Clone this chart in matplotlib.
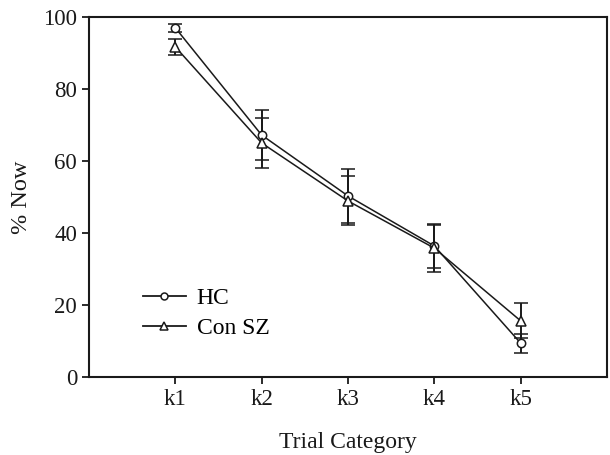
import matplotlib
matplotlib.use("Agg")
import matplotlib.pyplot as plt
from matplotlib.lines import Line2D

categories = ["k1", "k2", "k3", "k4", "k5"]
hc_values = [97.0, 67.2, 50.3, 36.4, 9.4]
hc_err = [1.1, 7.0, 7.5, 6.2, 2.6]
sz_values = [91.7, 65.0, 48.9, 35.8, 15.6]
sz_err = [2.2, 7.0, 6.8, 6.5, 4.9]
yticks = [0, 20, 40, 60, 80, 100]

plt.rcParams['font.family'] = ['Liberation Serif', 'DejaVu Serif']

INK = '#1a1a1a'
fig = plt.figure(figsize=(6.10, 4.55), dpi=100)
ax = fig.add_axes([89/610, 1 - 377/455, (607-89)/610, (377-17)/455])

x = list(range(1, len(categories) + 1))
ax.errorbar(x, hc_values, yerr=hc_err, color=INK, lw=1.1, marker='o',
            markersize=6, markerfacecolor='white', markeredgecolor=INK,
            markeredgewidth=1.1, capsize=5, elinewidth=1.4, capthick=1.4,
            zorder=3)
ax.errorbar(x, sz_values, yerr=sz_err, color=INK, lw=1.1, marker='^',
            markersize=6.5, markerfacecolor='white', markeredgecolor=INK,
            markeredgewidth=1.1, capsize=5, elinewidth=1.4, capthick=1.4,
            zorder=3)

ax.set_xlim(0, 6)
ax.set_ylim(0, 100)
ax.set_xticks(x)
ax.set_xticklabels(categories)
ax.set_yticks(yticks)
ax.tick_params(direction='out', length=5, width=1.3, labelsize=16.5, colors=INK)
for s in ax.spines.values():
    s.set_linewidth(1.5)
    s.set_color(INK)

ax.set_xlabel('Trial Category', fontsize=17, labelpad=16, color=INK)
ax.set_ylabel('% Now', fontsize=17.5, labelpad=8, color=INK)

handles = [
    Line2D([], [], color=INK, lw=1.3, marker='o', markersize=5,
           markerfacecolor='white', markeredgecolor=INK, markeredgewidth=1.1),
    Line2D([], [], color=INK, lw=1.3, marker='^', markersize=5.5,
           markerfacecolor='white', markeredgecolor=INK, markeredgewidth=1.1),
]
ax.legend(handles, ['HC', 'Con SZ'], loc='upper left',
          bbox_to_anchor=(0.076, 0.287), frameon=False,
          fontsize=17, handlelength=1.85, handletextpad=0.45,
          labelspacing=0.35, borderpad=0.1)

fig.savefig('out.png', dpi=100)
